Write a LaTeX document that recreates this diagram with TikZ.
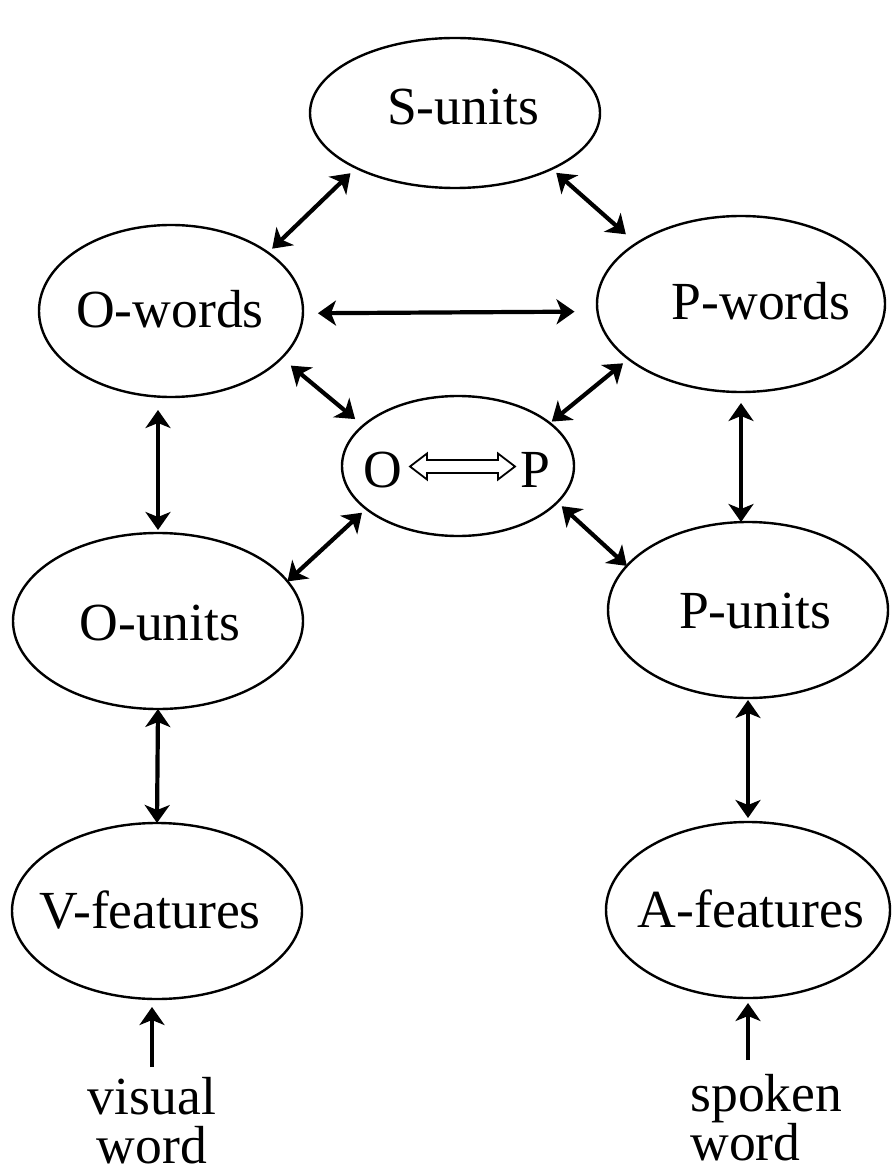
\documentclass[tikz,border=0pt]{standalone}
\usepackage{fontspec}
\setmainfont{Liberation Serif}
\usetikzlibrary{shapes.geometric,arrows.meta}
\begin{document}
\begin{tikzpicture}[x=0.5pt,y=-0.5pt,
  ell/.style={draw, ellipse, line width=1.2pt, inner sep=0pt, outer sep=0pt},
  lbl/.style={font=\fontsize{26.8}{32}\selectfont, inner sep=0pt, anchor=base},
  src/.style={font=\fontsize{26.8}{24.5}\selectfont, inner sep=0pt},
  tipx/.tip={Stealth[length=9pt,width=12.5pt,inset=2.5pt]},
  arr/.style={line width=2.1pt, tipx-tipx},
  uarr/.style={line width=2.1pt, -tipx}]
\fill[white] (0,0) rectangle (891,1171);
\useasboundingbox (0,0) rectangle (891,1171);

% ellipses
\node[ell, minimum width=145pt, minimum height=75pt] (s)  at (455,113) {};
\node[ell, minimum width=132pt, minimum height=86pt] (ow) at (171,311) {};
\node[ell, minimum width=144pt, minimum height=88pt] (pw) at (741,304) {};
\node[ell, minimum width=116pt, minimum height=70pt] (op) at (458,466) {};
\node[ell, minimum width=145pt, minimum height=88pt] (ou) at (158,621) {};
\node[ell, minimum width=140pt, minimum height=88pt] (pu) at (748,610) {};
\node[ell, minimum width=145pt, minimum height=88pt] (vf) at (157,911) {};
\node[ell, minimum width=142pt, minimum height=88pt] (af) at (748,910) {};

% labels
\node[lbl] (st)  at (463,125) {S-units};
\node[lbl] (owt) at (170,328) {O-words};
\node[lbl] (pwt) at (761,320) {P-words};
\node[lbl] (ot)  at (383,487) {O};
\node[lbl] (pt)  at (535,487) {P};
\node[lbl] (out) at (160,640) {O-units};
\node[lbl] (put) at (755,628) {P-units};
\node[lbl] (vft) at (150,928) {V-features};
\node[lbl] (aft) at (751,927) {A-features};
\node[src, align=center, anchor=north] (vis) at (152,1077) {visual\\word};
\node[src, align=left, anchor=north west] (spk) at (690,1074) {spoken\\word};

% hollow double arrow inside O<=>P
\draw[line width=0.9pt, line join=miter] (410,466.5) -- (427,453.5) -- (427,460) -- (498,460) -- (498,453.5) -- (515,466.5) -- (498,479.5) -- (498,473) -- (427,473) -- (427,479.5) -- cycle;

% connectors
\draw[arr, shorten <=3.9pt, shorten >=2.9pt] (s.209.3) -- (ow.31.5);
\draw[arr, shorten <=3pt, shorten >=7pt] (s.-30) -- (pw.150.4);
\draw[arr, shorten <=7.5pt, shorten >=11.5pt] (ow.-1.6) -- (pw.183.8);
\draw[arr, shorten <=6pt, shorten >=5.2pt] (ow.-23.3) -- (op.157.3);
\draw[arr, shorten <=3.5pt, shorten >=1.3pt] (pw.206.6) -- (op.25.1);
\draw[arr, shorten <=6.5pt, shorten >=1.5pt] (ow.south -| ou.north) -- (ou.north);
\draw[arr, shorten <=5.5pt] (pw.south) -- (pw.south |- pu.north);
\draw[arr, shorten <=2.9pt] (op.205.6) -- (ou.17.9);
\draw[arr, shorten <=3pt] (op.-20.6) -- (pu.160.7);
\draw[arr] (ou.south) -- (vf.north);
\draw[arr, shorten <=1pt, shorten >=2pt] (pu.south) -- (af.north);
\draw[uarr, shorten <=5pt, shorten >=4pt] (vis.north) -- (vis.north |- vf.south);
\draw[uarr, shorten <=7pt, shorten >=2.5pt] (af.south |- spk.north) -- (af.south);
\end{tikzpicture}
\end{document}
